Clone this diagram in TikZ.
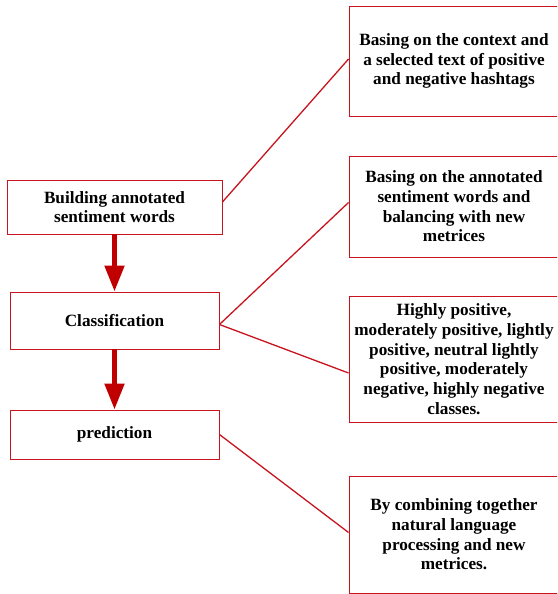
\documentclass[tikz,border=0pt]{standalone}
\usepackage{fontspec}
\setmainfont{Liberation Serif}
\usetikzlibrary{arrows.meta}
\definecolor{boxred}{HTML}{C8141E}
\definecolor{arrred}{HTML}{C00000}
\begin{document}
\begin{tikzpicture}[x=1pt,y=-1pt,
  box/.style={draw=boxred, line width=0.9pt, rectangle, inner sep=0pt, align=center,
    font=\fontsize{17.2}{19.7}\selectfont\bfseries},
  link/.style={draw=boxred, line width=1.3pt},
  flow/.style={draw=arrred, fill=arrred, line width=5pt, -{Triangle[length=26pt,width=19pt]}}]
\useasboundingbox (0,0) rectangle (557,594);
\clip (0,0) rectangle (557,594);
\node[box, minimum width=215pt, minimum height=54pt] (a) at (114.5,207) {Building annotated\\sentiment words};
\node[box, minimum width=209pt, minimum height=57pt] (b) at (114.5,320.5) {Classification};
\node[box, minimum width=209pt, minimum height=49pt] (c) at (114.5,434.5) {prediction};
\node[box, minimum width=210pt, minimum height=110pt] (r1) at (454,61) {Basing on the context and\\a selected text of positive\\and negative hashtags};
\node[box, minimum width=210pt, minimum height=101pt] (r2) at (454,206.5) {Basing on the annotated\\sentiment words and\\balancing with new\\metrices};
\node[box, minimum width=210pt, minimum height=126pt] (r3) at (454,359) {Highly positive,\\moderately positive, lightly\\positive, neutral lightly\\positive, moderately\\negative, highly negative\\classes.};
\node[box, minimum width=210pt, minimum height=117pt] (r4) at (454,534.5) {By combining together\\natural language\\processing and new\\metrices.};
\draw[flow] (a.south) -- (b.north);
\draw[flow] (b.south) -- (c.north);
\draw[link] ([yshift=5pt]a.east) -- ([yshift=2pt]r1.west);
\draw[link] ([yshift=-4pt]b.east) -- ([yshift=4pt]r2.west);
\draw[link] ([yshift=-4pt]b.east) -- ([yshift=-14pt]r3.west);
\draw[link] (c.east) -- ([yshift=2pt]r4.west);
\end{tikzpicture}
\end{document}
